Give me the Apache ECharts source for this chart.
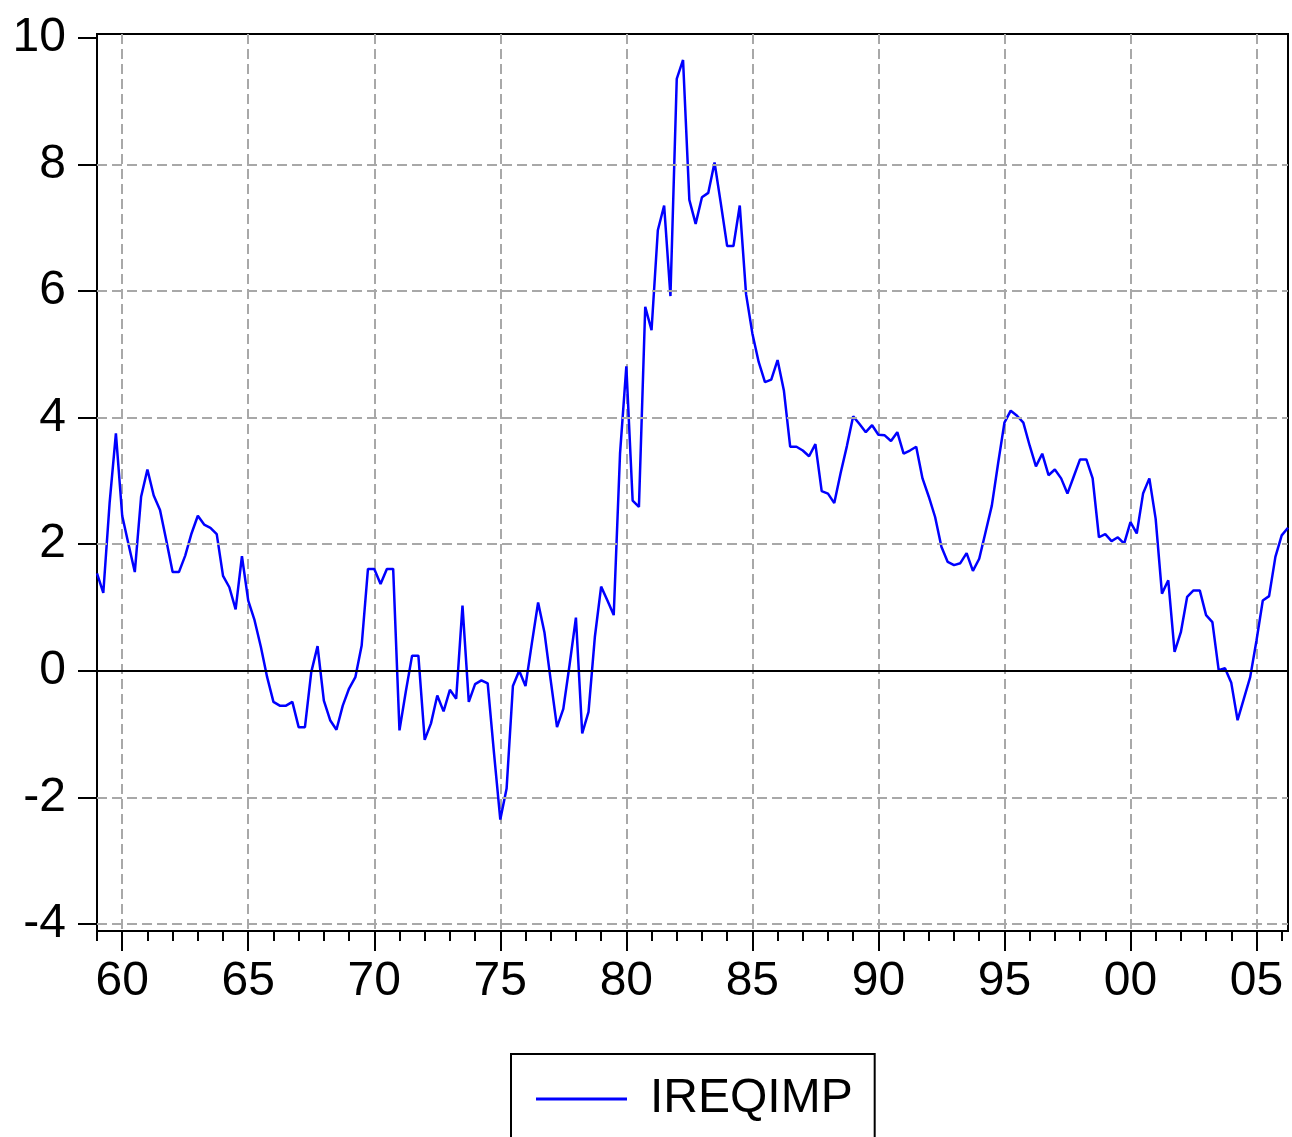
<!DOCTYPE html>
<html>
<head>
<meta charset="utf-8">
<script src="https://cdn.jsdelivr.net/npm/echarts@6/dist/echarts.min.js"></script>
<style>
  html, body { margin: 0; background: #fff; }
  #chart { width: 1292px; height: 1137px; }
</style>
</head>
<body>
<div id="chart"></div>
<script>
// quarterly series, 1959Q1 .. 2006Q2
const startYear = 1959
const ireqimp = [
  1.54, 1.23, 2.65, 3.75, 2.45, 2.00, 1.56, 2.75, 3.18, 2.77, 2.54, 2.06,
  1.56, 1.56, 1.82, 2.17, 2.45, 2.31, 2.26, 2.16, 1.50, 1.32, 0.97, 1.81,
  1.11, 0.80, 0.38, -0.10, -0.49, -0.55, -0.55, -0.49, -0.89, -0.89, -0.02, 0.39,
  -0.47, -0.78, -0.93, -0.55, -0.28, -0.10, 0.40, 1.61, 1.61, 1.37, 1.61, 1.61,
  -0.94, -0.33, 0.24, 0.24, -1.09, -0.83, -0.39, -0.64, -0.30, -0.44, 1.03, -0.49,
  -0.21, -0.15, -0.20, -1.30, -2.35, -1.86, -0.24, 0.00, -0.24, 0.43, 1.08, 0.61,
  -0.15, -0.89, -0.60, 0.10, 0.84, -0.99, -0.65, 0.53, 1.33, 1.11, 0.88, 3.43,
  4.81, 2.69, 2.59, 5.75, 5.38, 6.96, 7.35, 5.92, 9.35, 9.65, 7.44, 7.06,
  7.48, 7.55, 8.03, 7.38, 6.71, 6.71, 7.35, 5.95, 5.33, 4.88, 4.56, 4.60,
  4.91, 4.43, 3.54, 3.54, 3.48, 3.39, 3.58, 2.84, 2.80, 2.65, 3.12, 3.55,
  4.02, 3.90, 3.77, 3.88, 3.73, 3.72, 3.63, 3.77, 3.43, 3.48, 3.54, 3.04,
  2.75, 2.43, 1.96, 1.72, 1.67, 1.70, 1.86, 1.58, 1.77, 2.19, 2.61, 3.28,
  3.92, 4.11, 4.03, 3.92, 3.56, 3.23, 3.43, 3.09, 3.18, 3.04, 2.80, 3.07,
  3.34, 3.34, 3.04, 2.11, 2.16, 2.05, 2.11, 2.01, 2.35, 2.17, 2.80, 3.04,
  2.40, 1.22, 1.43, 0.30, 0.61, 1.17, 1.27, 1.27, 0.88, 0.77, 0.01, 0.04,
  -0.19, -0.78, -0.44, -0.10, 0.48, 1.11, 1.18, 1.80, 2.14, 2.26
]
const yTicks = [-4, -2, 0, 2, 4, 6, 8, 10]
const yGridLines = [-4, -2, 2, 4, 6, 8]
const labelStep = 5

const quarters = ireqimp.map((v, i) => (startYear + Math.floor(i / 4)) + 'Q' + (i % 4 + 1))
const yearOf = i => startYear + Math.floor(i / 4)
const isYear = i => i % 4 === 0
const isMajor = i => isYear(i) && yearOf(i) % labelStep === 0

const font = 'Liberation Sans, Arial, sans-serif'
const gridStyle = { color: '#a8a8a8', width: 2, type: [10, 5] }
const black = { color: '#000', width: 2 }

const chart = echarts.init(document.getElementById('chart'))
chart.setOption({
  animation: false,
  backgroundColor: '#fff',
  grid: {
    left: 97, right: 4, top: 34, bottom: 206,
    show: true, borderColor: '#000', borderWidth: 2
  },
  legend: {
    data: ['IREQIMP'],
    left: 511, top: 1054,
    selectedMode: false,
    icon: 'rect',
    itemWidth: 91, itemHeight: 3,
    itemStyle: { color: '#0000ff' },
    borderColor: '#000', borderWidth: 2,
    padding: [21, 22, 40, 25],
    textStyle: { fontSize: 48, color: '#000', fontFamily: font, padding: [0, 0, 0, 18] }
  },
  xAxis: [
    {
      type: 'category', data: quarters, boundaryGap: false, position: 'bottom',
      axisLine: { onZero: false, lineStyle: black },
      axisTick: { interval: i => isYear(i), length: 10, lineStyle: black },
      axisLabel: { show: false },
      splitLine: { show: false }
    },
    {
      type: 'category', data: quarters, boundaryGap: false, position: 'bottom',
      axisLine: { show: false, onZero: false },
      axisTick: { interval: i => isMajor(i), length: 20, lineStyle: black },
      axisLabel: {
        interval: i => isMajor(i),
        formatter: v => v.slice(2, 4),
        fontSize: 48, margin: 27, color: '#000', fontFamily: font
      },
      splitLine: { show: true, interval: i => isMajor(i), lineStyle: gridStyle }
    }
  ],
  yAxis: {
    type: 'value', min: -4.11, max: 10.06,
    axisLine: { show: true, lineStyle: black },
    axisTick: { show: true, customValues: yTicks, length: 19, lineStyle: black },
    axisLabel: { customValues: yTicks, fontSize: 48, margin: 31, color: '#000', fontFamily: font },
    splitLine: { show: false }
  },
  series: [
    {
      name: 'gridlines', type: 'line', data: [], z: 1, silent: true,
      markLine: {
        silent: true, symbol: 'none', animation: false,
        label: { show: false },
        data: yGridLines.map(v => ({ yAxis: v, lineStyle: gridStyle }))
          .concat([{ yAxis: 0, lineStyle: { color: '#000', width: 2, type: 'solid' } }])
      }
    },
    {
      name: 'IREQIMP', type: 'line', data: ireqimp, z: 3,
      symbol: 'none', showSymbol: false,
      lineStyle: { color: '#0000ff', width: 2.5 },
      itemStyle: { color: '#0000ff' }
    }
  ]
})
</script>
</body>
</html>
